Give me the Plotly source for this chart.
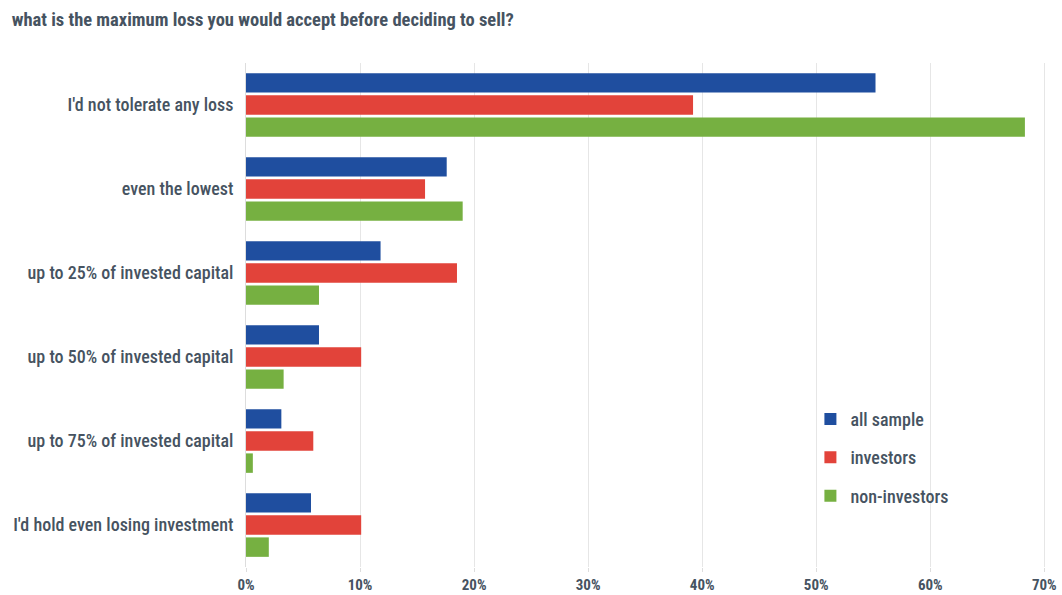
import plotly.graph_objects as go

categories = ["I'd not tolerate any loss", "even the lowest", "up to 25% of invested capital",
              "up to 50% of invested capital", "up to 75% of invested capital",
              "I'd hold even losing investment"]
all_sample = [55.2, 17.6, 11.8, 6.4, 3.1, 5.7]
investors = [39.2, 15.7, 18.5, 10.1, 5.9, 10.1]
non_investors = [68.3, 19.0, 6.4, 3.3, 0.6, 2.0]
tick_vals = [0, 10, 20, 30, 40, 50, 60, 70]
tick_text = ["0%", "10%", "20%", "30%", "40%", "50%", "60%", "70%"]

FONT = "Roboto Condensed, Liberation Sans Narrow, Roboto, sans-serif"
TXT = "#465361"

fig = go.Figure()
for name, vals, col, grp in [("all sample", all_sample, "#1f4e9f", "a"),
                             ("investors", investors, "#e2433a", "b"),
                             ("non-investors", non_investors, "#76b041", "c")]:
    fig.add_trace(go.Bar(y=categories, x=vals, name=name, orientation="h",
                         marker=dict(color=col, line=dict(width=0)), legendgroup=grp))

fig.update_layout(
    width=1062, height=595,
    margin=dict(l=246, r=12, t=63, b=28, autoexpand=False),
    plot_bgcolor="white", paper_bgcolor="white",
    barmode="group", bargap=0.21, bargroupgap=0.12,
    font=dict(family=FONT, color=TXT, size=18),
    title=dict(text="<b>what is the maximum loss you would accept before deciding to sell?</b>",
               x=0.011, xanchor="left", y=0.968, yanchor="middle",
               font=dict(size=18.5, color=TXT, family=FONT)),
    legend=dict(x=0.702, y=0.33, xanchor="left", yanchor="top",
                traceorder="grouped", tracegroupgap=12,
                font=dict(size=18, color=TXT, family=FONT, weight=500),
                bgcolor="rgba(0,0,0,0)", itemwidth=30),
    xaxis=dict(range=[0, 70.5], tickvals=tick_vals, ticktext=tick_text,
               showgrid=True, gridcolor="#e6e6e6", gridwidth=1,
               zeroline=False, showline=False, automargin=False,
               ticks="outside", ticklen=4, tickcolor="#dddddd",
               ticklabelstandoff=0,
               tickfont=dict(size=15, color=TXT, family=FONT, weight="bold")),
    yaxis=dict(autorange="reversed", showgrid=False, zeroline=False,
               showline=True, linecolor="#dddddd", linewidth=1,
               ticks="", ticklabelstandoff=8, automargin=False,
               tickfont=dict(size=18, color=TXT, family=FONT, weight=500)),
)
fig.write_html("out.html")
